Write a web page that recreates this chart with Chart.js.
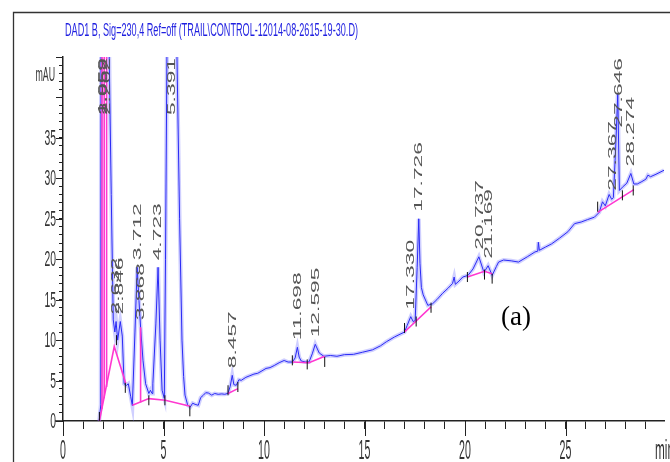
<!DOCTYPE html>
<html><head><meta charset="utf-8">
<script src="https://cdn.jsdelivr.net/npm/chart.js@4.4.1/dist/chart.umd.min.js"></script>
<style>html,body{margin:0;padding:0;background:#fff;}canvas{display:block;}</style>
</head><body>
<canvas id="c" width="670" height="462"></canvas>
<script>
const titleText = "DAD1 B, Sig=230,4 Ref=off (TRAIL\\CONTROL-12014-08-2615-19-30.D)";
const yAxisUnit = "mAU";
const xAxisUnit = "min";
const panelTag = "(a)";

// chromatogram trace (min, mAU)
const traceTime = [1.80,1.88,1.90,2.00,2.05,2.20,2.30,2.40,2.50,2.58,2.64,2.72,2.85,2.95,3.04,3.15,3.25,3.37,3.45,3.58,3.69,3.78,3.86,3.98,4.11,4.27,4.35,4.43,4.47,4.62,4.73,4.83,4.93,5.04,5.10,5.17,5.25,5.40,5.60,5.67,5.80,5.92,6.00,6.07,6.20,6.33,6.45,6.57,6.73,6.85,6.98,7.10,7.23,7.40,7.55,7.72,7.90,8.05,8.21,8.32,8.42,8.50,8.62,8.75,8.87,9.10,9.30,9.50,9.69,9.90,10.10,10.30,10.51,10.75,11.00,11.20,11.41,11.55,11.66,11.75,11.85,12.05,12.24,12.40,12.55,12.75,12.98,13.30,13.63,14.00,14.45,14.90,15.40,15.80,16.09,16.50,16.99,17.12,17.30,17.42,17.52,17.62,17.70,17.76,17.83,17.92,18.15,18.39,18.60,18.89,19.15,19.38,19.46,19.52,19.70,19.89,20.15,20.40,20.69,20.94,21.05,21.15,21.35,21.56,21.67,21.92,22.30,22.66,23.10,23.48,23.62,23.65,23.70,24.00,24.31,24.70,25.12,25.45,25.78,26.10,26.44,26.68,26.84,26.98,27.17,27.30,27.38,27.50,27.60,27.68,27.83,28.05,28.25,28.40,28.57,28.80,29.00,29.10,29.23,29.50,29.90];
const traceSignal = [0,2,80,120,100,90,45,28,12.5,11.0,12.3,10.0,12.3,10.5,4.6,4.4,4.6,3.0,1.9,11,19.0,14.9,11.6,7.5,4.6,3.4,3.8,3.4,4.6,12,19.0,10,3.8,2.8,20,45,150,200,150,45,25,10,5.5,3.2,2.0,1.73,2.2,2.06,1.94,2.9,3.18,3.5,3.46,3.2,3.4,3.3,3.35,3.3,3.42,4.3,5.65,4.5,4.41,5.1,5.03,5.4,5.6,5.8,5.9,6.2,6.5,6.6,6.86,7.2,7.48,7.29,7.29,7.8,9.11,7.9,7.42,7.3,7.29,8.3,9.48,8.4,8.0,8.1,8.0,8.2,8.24,8.5,8.8,9.3,9.8,10.4,11.0,11.8,12.9,12.3,12.4,19,25.0,19.5,16.5,15.6,14.3,14.5,15.0,15.8,16.4,17.0,17.8,16.9,17.3,17.8,18.0,18.8,20.3,18.4,18.8,19.2,18.0,19.1,19.65,19.9,19.8,19.65,20.3,20.9,21.0,22.1,21.1,21.5,21.9,22.6,23.4,24.4,24.6,24.9,25.2,25.8,27.1,26.6,28.0,27.4,27.6,34,40.5,28.5,28.9,29.4,30.6,29.3,29.3,29.6,29.9,30.4,30.2,30.5,31.0];

// integration baselines (null = break)
const baseTime = [1.81,2.55,3.12,null,3.45,4.27,5.09,6.33,null,8.21,8.70,null,11.41,12.24,13.02,null,16.99,18.31,null,20.12,20.97,21.35,null,26.60,28.40];
const baseSignal = [0,9.2,4.66,null,1.94,2.77,2.56,1.82,null,3.4,4.0,null,7.3,7.2,8.0,null,11.0,14.1,null,17.8,18.5,18.2,null,25.8,28.6];
// drop lines
const dropTime = [1.94,1.94,null,2.05,2.05,null,2.17,2.17,null,3.86,3.86];
const dropSignal = [1.5,80,null,2.8,80,null,4.2,80,null,2.3,11.6];
// peak start/end marks
const markTime = [1.81,2.66,3.10,4.27,5.07,6.31,8.21,8.70,11.41,12.15,13.02,16.99,17.57,18.31,20.12,20.97,21.35,26.60,27.83,28.37];
const markSignal = [0.5,10.0,4.1,2.56,2.56,1.2,3.8,4.2,7.5,7.0,7.3,11.5,12.3,14.0,17.8,18.1,17.6,26.5,27.9,28.5];

const peakLabels = ["1.959","2.052","2.202","2.632","2.846","3.712","3.868","4.723","5.391","8.457","11.698","12.595","17.330","17.726","20.737","21.169","27.367","27.646","28.274"];
const peakTimes = [1.959,2.052,2.202,2.632,2.846,3.712,3.868,4.723,5.391,8.457,11.698,12.595,17.330,17.726,20.737,21.169,27.367,27.646,28.274];

const yTickLabels = [0,5,10,15,20,25,30,35];
const xTickLabels = [0,5,10,15,20,25];

const pts = (T,S)=>T.map((t,i)=>({x:t===null?NaN:t,y:S[i]}));
const FONT = '"Liberation Sans", Arial, sans-serif';

function peakTop(t){
  let m = -Infinity;
  traceTime.forEach((tt,i)=>{ if(Math.abs(tt-t)<=0.06) m=Math.max(m,traceSignal[i]); });
  return m;
}

const decor = {
  id:'decor',
  afterDraw(chart){
    const c = chart.ctx, xs = chart.scales.x, ys = chart.scales.y, a = chart.chartArea;
    c.save();
    // frame
    c.strokeStyle='#333'; c.lineWidth=1.3;
    c.beginPath(); c.moveTo(13.5,462); c.lineTo(13.5,12.5); c.lineTo(670,12.5); c.stroke();
    // axis extension and major ticks
    c.strokeStyle='#222'; c.lineWidth=1.5;
    c.beginPath(); c.moveTo(55,a.bottom); c.lineTo(a.left,a.bottom); c.stroke();
    c.lineWidth=1;
    c.beginPath();
    for(let v=0; v<=25; v+=5){ const px=Math.round(xs.getPixelForValue(v))+0.5; c.moveTo(px,a.bottom); c.lineTo(px,a.bottom+15); }
    for(let v=0; v<=45; v+=5){ const py=Math.round(ys.getPixelForValue(v))+0.5; c.moveTo(a.left,py); c.lineTo(a.left-7,py); }
    c.stroke();
    // title
    c.fillStyle='#1f1fe0';
    c.font='18px '+FONT;
    let w=c.measureText(titleText).width;
    c.save(); c.translate(65,31); c.scale(293/w,1); c.textAlign='left'; c.textBaseline='middle'; c.fillText(titleText,0,0); c.restore();
    // y labels
    c.fillStyle='#333';
    c.font='22px '+FONT;
    yTickLabels.forEach(v=>{ const py=ys.getPixelForValue(v); c.save(); c.translate(56,py+1); c.scale(0.47,1); c.textAlign='right'; c.textBaseline='middle'; c.fillText(String(v),0,0); c.restore(); });
    c.font='21px '+FONT;
    c.save(); c.translate(55,75); c.scale(0.42,1); c.textAlign='right'; c.textBaseline='middle'; c.fillText(yAxisUnit,0,0); c.restore();
    // x labels
    c.font='28px '+FONT;
    xTickLabels.forEach(v=>{ const px=xs.getPixelForValue(v); c.save(); c.translate(px,451); c.scale(0.38,1); c.textAlign='center'; c.textBaseline='middle'; c.fillText(String(v),0,0); c.restore(); });
    c.save(); c.translate(655,451); c.scale(0.42,1); c.textAlign='left'; c.textBaseline='middle'; c.fillText(xAxisUnit,0,0); c.restore();
    // peak labels
    c.fillStyle='#555';
    c.font='12px '+FONT;
    peakLabels.forEach((lab,i)=>{
      const t=peakTimes[i];
      const px=xs.getPixelForValue(t);
      const top=Math.min(peakTop(t),60);
      const len=c.measureText(lab).width*1.9;
      let bottom=ys.getPixelForValue(top)-7;
      if(bottom-len < a.top+1) bottom=a.top+1+len;
      c.save(); c.translate(px,bottom); c.rotate(-Math.PI/2); c.scale(1.9,0.95);
      c.textAlign='left'; c.textBaseline='middle'; c.fillText(lab,0,0); c.restore();
    });
    // panel tag
    c.fillStyle='#000';
    c.font='27px "Liberation Serif", "Times New Roman", serif';
    c.textAlign='center'; c.textBaseline='middle';
    c.fillText(panelTag,516,318);
    c.restore();
  }
};

new Chart(document.getElementById('c'),{
  type:'line',
  data:{datasets:[
    {data:pts(traceTime,traceSignal), borderColor:'rgba(110,110,255,0.33)', borderWidth:4, pointRadius:0, order:5},
    {data:pts(traceTime,traceSignal), borderColor:'#2a2af5', borderWidth:1, pointRadius:0, order:4},
    {data:pts(baseTime,baseSignal), borderColor:'#ff38d0', borderWidth:1.6, pointRadius:0, spanGaps:false, order:3},
    {data:pts(dropTime,dropSignal), borderColor:'#ff38d0', borderWidth:1.6, pointRadius:0, spanGaps:false, order:2},
    {data:pts(markTime,markSignal), showLine:false, pointStyle:'line', rotation:90, pointRadius:5, borderColor:'#111', borderWidth:1, order:1}
  ]},
  options:{
    responsive:false, animation:false, devicePixelRatio:1, events:[],
    layout:{padding:{top:57,left:0,right:0,bottom:0}},
    plugins:{legend:{display:false},tooltip:{enabled:false},title:{display:false}},
    scales:{
      x:{type:'linear',min:0,max:29.9,
         ticks:{stepSize:1,display:false,includeBounds:false},
         grid:{drawOnChartArea:false,drawTicks:true,tickLength:8,tickColor:'#222',lineWidth:1},
         border:{color:'#222',width:1.5},
         afterFit(s){s.height=41;}},
      y:{type:'linear',min:0,max:45,
         ticks:{stepSize:1,display:false,includeBounds:false},
         grid:{drawOnChartArea:false,drawTicks:true,tickLength:4,tickColor:'#222',lineWidth:1},
         border:{color:'#222',width:1.5},
         afterFit(s){s.width=63;}}
    }
  },
  plugins:[decor]
});
</script>
</body></html>
